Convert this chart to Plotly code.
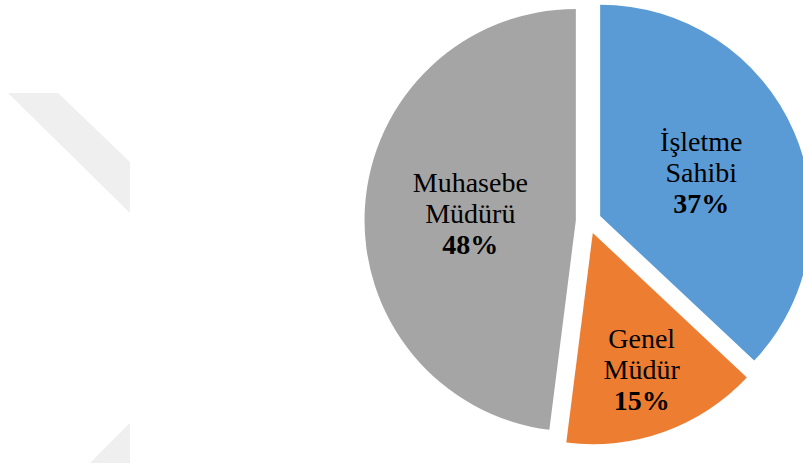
import plotly.graph_objects as go

# ---- data ----
labels = ["İşletme<br>Sahibi", "Genel<br>Müdür", "Muhasebe<br>Müdürü"]
values = [37, 15, 48]
colors = ["#5B9BD5", "#ED7D31", "#A5A5A5"]

# faint background watermark polygons (screen pixel coords)
watermark = [
    [(8, 93), (58, 93), (130, 162), (130, 213)],
    [(90, 463), (130, 423), (130, 463)],
]

# figure canvas (slightly larger than the window; the page is shifted/clipped)
FW, FH = 813, 472
SHIFT_Y = 3          # page is moved up by this many px
PLOT_H = 448         # plot area height (margin bottom = FH - PLOT_H)
CX = 588.5           # pie centre x (screen px)
RX = 224             # half-width of the pie domain

fig = go.Figure()
fig.add_trace(go.Pie(
    labels=labels,
    values=values,
    sort=False,
    direction="clockwise",
    rotation=0,
    pull=0.06,
    marker=dict(colors=colors, line=dict(width=0)),
    texttemplate='<span style="font-size:28px">%{label}<br><b>%{percent:.0%}</b></span>',
    textposition="inside",
    insidetextorientation="horizontal",
    textfont=dict(family="Liberation Serif, Times New Roman, serif", size=24, color="#000000"),
    hoverinfo="label+percent",
    showlegend=False,
    domain=dict(x=[(CX - RX) / FW, min(1.0, (CX + RX) / FW)], y=[0.0, 1.0]),
))

shapes = []
for poly in watermark:
    path = "M " + " L ".join(
        f"{x / FW:.4f},{1 - (y + SHIFT_Y) / PLOT_H:.4f}" for x, y in poly) + " Z"
    shapes.append(dict(type="path", xref="paper", yref="paper", path=path,
                       fillcolor="#EFEFEF", line=dict(width=0), layer="below"))

fig.update_layout(
    width=FW, height=FH,
    margin=dict(l=0, r=0, t=0, b=FH - PLOT_H),
    paper_bgcolor="white",
    plot_bgcolor="white",
    shapes=shapes,
)

fig.write_html(
    "out.html",
    config={"displayModeBar": False},
    post_script=(
        f"document.body.style.margin='-{SHIFT_Y}px 0 0 0';"
        "document.body.style.overflow='hidden';"
        "document.documentElement.style.overflow='hidden';"
    ),
)
